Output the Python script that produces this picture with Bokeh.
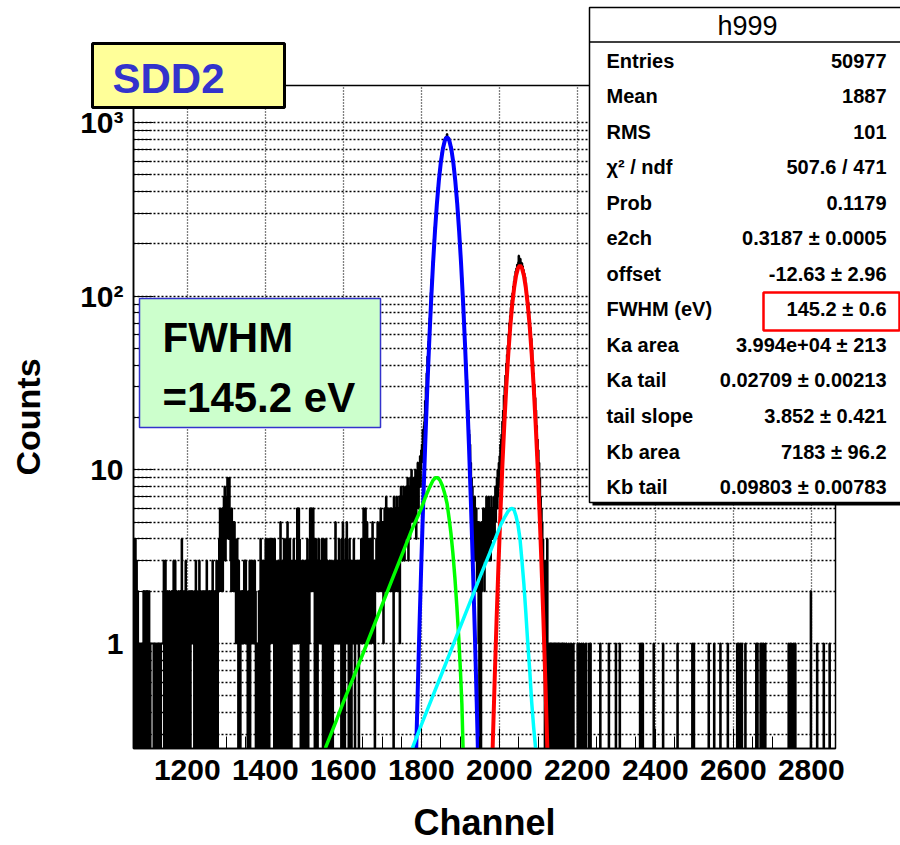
import numpy as np
from bokeh.plotting import figure
from bokeh.models import Range1d, FixedTicker
from bokeh.core.properties import value
from bokeh.embed import file_html
from bokeh.resources import INLINE

FONT = "Liberation Sans"

# Channel window of the spectrum (1 channel per bin)
first_channel = 1062
last_channel = 2861

# Counts per channel, 1062 .. 1779 (low-energy shelf / background)
bkg_counts = [
    4, 0, 3, 1, 0, 4, 2, 0, 3, 1, 0, 2, 1, 0, 1, 0, 1, 1, 0, 1,
    0, 1, 1, 0, 1, 0, 2, 0, 1, 2, 0, 1, 0, 2, 1, 0, 2, 1, 0, 1,
    2, 0, 1, 0, 1, 1, 1, 1, 1, 1, 1, 1, 0, 1, 0, 1, 1, 0, 0, 1,
    0, 1, 0, 0, 1, 1, 0, 1, 0, 1, 0, 1, 1, 1, 1, 1, 1, 2, 3, 0,
    2, 1, 3, 0, 2, 1, 0, 1, 2, 0, 1, 0, 2, 1, 0, 1, 1, 0, 2, 1,
    0, 1, 2, 3, 1, 0, 2, 3, 1, 0, 1, 2, 0, 1, 1, 0, 2, 1, 0, 1,
    2, 0, 1, 1, 4, 0, 1, 2, 0, 1, 0, 2, 1, 1, 3, 0, 1, 2, 0, 1,
    1, 0, 2, 0, 1, 2, 0, 1, 1, 2, 1, 1, 2, 1, 1, 1, 0, 2, 1, 0,
    3, 0, 1, 2, 0, 1, 0, 1, 2, 3, 1, 0, 1, 2, 0, 1, 1, 0, 2, 0,
    1, 2, 0, 1, 0, 2, 1, 1, 3, 0, 1, 2, 0, 1, 0, 2, 1, 0, 1, 2,
    0, 1, 1, 3, 1, 0, 2, 1, 0, 1, 2, 0, 1, 3, 2, 1, 0, 2, 3, 2,
    4, 2, 6, 3, 5, 2, 4, 3, 6, 2, 5, 3, 7, 4, 8, 5, 3, 6, 4, 7,
    5, 9, 6, 8, 4, 7, 9, 5, 6, 3, 5, 2, 6, 4, 3, 5, 2, 4, 3, 5,
    2, 4, 3, 1, 3, 2, 4, 1, 2, 0, 3, 1, 2, 1, 0, 1, 2, 1, 1, 2,
    1, 2, 1, 1, 3, 2, 3, 1, 3, 1, 2, 1, 1, 0, 1, 2, 0, 1, 3, 0,
    1, 2, 3, 1, 2, 1, 3, 2, 1, 2, 1, 3, 1, 2, 0, 1, 0, 1, 1, 0,
    1, 0, 2, 1, 0, 1, 4, 2, 0, 3, 1, 0, 2, 1, 3, 0, 1, 2, 0, 4,
    1, 0, 2, 3, 0, 4, 1, 2, 0, 3, 4, 2, 1, 3, 4, 2, 3, 4, 1, 2,
    2, 0, 4, 1, 2, 3, 1, 0, 2, 1, 0, 3, 1, 0, 2, 1, 2, 5, 1, 0,
    1, 2, 0, 3, 1, 0, 4, 2, 1, 0, 3, 1, 4, 0, 2, 5, 1, 3, 0, 2,
    1, 4, 0, 2, 3, 0, 1, 2, 3, 1, 2, 4, 1, 3, 2, 1, 2, 3, 1, 2,
    6, 2, 1, 3, 6, 2, 4, 1, 3, 0, 2, 1, 0, 3, 1, 0, 2, 3, 0, 1,
    2, 0, 3, 1, 0, 2, 4, 1, 0, 3, 2, 1, 3, 6, 4, 5, 2, 6, 3, 2,
    4, 6, 2, 3, 4, 0, 2, 1, 4, 0, 1, 3, 0, 2, 1, 4, 2, 3, 1, 2,
    3, 1, 2, 4, 1, 2, 0, 1, 4, 0, 2, 3, 1, 0, 4, 2, 0, 1, 3, 0,
    1, 2, 0, 3, 1, 0, 2, 1, 0, 3, 1, 0, 2, 1, 2, 3, 1, 2, 5, 1,
    2, 3, 1, 2, 3, 1, 2, 4, 1, 3, 2, 1, 2, 0, 4, 1, 0, 5, 2, 0,
    3, 1, 0, 2, 4, 1, 3, 5, 2, 1, 3, 2, 0, 1, 4, 0, 2, 1, 3, 0,
    2, 1, 3, 2, 1, 4, 2, 3, 0, 2, 1, 3, 2, 1, 2, 3, 2, 1, 0, 3,
    2, 1, 3, 2, 4, 1, 2, 3, 1, 2, 6, 2, 3, 1, 4, 6, 2, 3, 1, 5,
    2, 1, 3, 2, 4, 2, 1, 3, 2, 4, 1, 3, 2, 5, 2, 3, 1, 2, 3, 0,
    2, 3, 2, 4, 3, 2, 5, 3, 2, 4, 2, 3, 5, 2, 6, 3, 4, 2, 5, 3,
    4, 1, 5, 3, 6, 2, 4, 3, 7, 4, 2, 5, 3, 6, 2, 4, 5, 3, 6, 2,
    5, 3, 6, 2, 4, 3, 5, 0, 7, 3, 4, 6, 2, 5, 3, 7, 4, 2, 6, 3,
    5, 4, 7, 1, 6, 3, 8, 4, 5, 7, 3, 6, 4, 8, 5, 3, 7, 4, 6, 8,
    5, 7, 4, 9, 6, 3, 8, 5, 7, 4, 9, 6, 5, 10, 7, 6, 8, 5,
]

# Counts per channel, 1780 .. 1945 (Mn K-alpha line)
ka_counts = [
    6, 9, 5, 8, 6, 10, 7, 4, 8, 9,
    7, 11, 8, 6, 9, 10, 9, 12, 8, 10,
    13, 11, 14, 12, 17, 15, 13, 18, 19, 21,
    25, 23, 30, 29, 36, 37, 45, 44, 53, 55,
    60, 70, 75, 86, 90, 105, 110, 126, 131, 152,
    160, 181, 190, 214, 224, 251, 262, 290, 301, 335,
    348, 381, 392, 425, 446, 478, 493, 530, 541, 578,
    596, 627, 640, 672, 684, 715, 722, 751, 762, 770,
    801, 799, 822, 806, 830, 821, 858, 826, 819, 814,
    798, 808, 781, 772, 760, 741, 732, 703, 690, 661,
    648, 612, 596, 570, 538, 527, 488, 470, 441, 420,
    389, 372, 344, 327, 296, 284, 258, 243, 220, 209,
    185, 174, 152, 146, 128, 119, 104, 98, 84, 80,
    68, 66, 54, 52, 43, 41, 34, 33, 26, 25,
    21, 22, 17, 16, 13, 14, 10, 11, 8, 9,
    7, 8, 5, 7, 4, 6, 3, 7, 4, 5,
    3, 6, 4, 2, 5, 3,
]

# Counts per channel, 1946 .. 1985 (between the two lines)
valley_counts = [
    4, 1, 5, 0, 3, 1, 4, 0, 5, 2,
    3, 5, 4, 6, 3, 5, 2, 4, 6, 3,
    5, 7, 4, 6, 3, 5, 4, 7, 3, 5,
    4, 6, 3, 5, 7, 4, 5, 6, 4, 5,
]

# Counts per channel, 1986 .. 2125 (Mn K-beta line)
kb_counts = [
    5, 7, 4, 6, 8, 5, 7, 6, 9, 6,
    10, 7, 9, 11, 8, 12, 10, 14, 11, 15,
    16, 14, 19, 18, 22, 20, 27, 24, 30, 28,
    35, 33, 41, 38, 46, 45, 52, 51, 60, 58,
    70, 67, 77, 75, 86, 84, 95, 93, 104, 101,
    114, 110, 122, 118, 131, 127, 139, 134, 145, 140,
    152, 148, 150, 158, 171, 153, 160, 158, 164, 151,
    157, 149, 155, 143, 149, 138, 142, 130, 135, 122,
    129, 114, 120, 104, 110, 96, 101, 87, 92, 78,
    82, 69, 74, 61, 66, 54, 57, 45, 49, 38,
    42, 32, 36, 27, 31, 23, 26, 18, 22, 15,
    18, 12, 15, 10, 13, 8, 11, 6, 9, 5,
    7, 4, 6, 3, 5, 2, 4, 3, 1, 3,
    2, 0, 2, 1, 3, 1, 0, 4, 1, 0,
]

# Above 2125 almost every channel is empty: non-zero channels only
tail_channels = [
    2126, 2128, 2131, 2133, 2134, 2136, 2139, 2142, 2143, 2145, 2147, 2150,
    2152, 2155, 2158, 2161, 2163, 2166, 2168, 2172, 2178, 2184, 2190, 2201,
    2205, 2210, 2216, 2222, 2230, 2234, 2259, 2281, 2299, 2309, 2361, 2364,
    2368, 2396, 2420, 2457, 2495, 2499, 2537, 2551, 2567, 2586, 2610, 2614,
    2618, 2622, 2631, 2659, 2662, 2670, 2673, 2677, 2682, 2742, 2746, 2750,
    2755, 2759, 2799, 2815, 2832, 2847,
]
tail_counts = [1] * 62 + [2, 1, 1, 1]

# Fit components: K-alpha gaussian (blue)
ka_gauss_ch = [1785, 1787, 1790, 1795, 1800, 1805, 1810, 1815, 1820, 1825, 1830,
               1835, 1840, 1845, 1850, 1855, 1860, 1863, 1866, 1869, 1872, 1877,
               1882, 1887, 1892, 1897, 1902, 1907, 1912, 1917, 1922, 1927, 1932,
               1937, 1942, 1945, 1947]
ka_gauss_val = [0.17, 0.25, 0.46, 1.20, 2.91, 6.61, 14.1, 28.3, 52.9, 93.0, 153.2,
                236.3, 341.7, 463.4, 588.7, 701.1, 782.7, 810.5, 820.0, 810.5, 782.7,
                701.1, 588.7, 463.4, 341.7, 236.3, 153.2, 93.0, 52.9, 28.3, 14.1,
                6.61, 2.91, 1.20, 0.46, 0.25, 0.17]

# K-beta gaussian (red)
kb_gauss_ch = [1981, 1983, 1988, 1993, 1998, 2003, 2008, 2013, 2018, 2023, 2028,
               2033, 2038, 2043, 2048, 2053, 2058, 2063, 2068, 2073, 2078, 2083,
               2088, 2093, 2098, 2103, 2108, 2113, 2118, 2123, 2125]
kb_gauss_val = [0.18, 0.255, 0.61, 1.38, 2.9, 5.8, 10.8, 18.7, 30.5, 46.5, 66.5,
                89.1, 111.9, 131.7, 145.2, 150.0, 145.2, 131.7, 111.9, 89.1, 66.5,
                46.5, 30.5, 18.7, 10.8, 5.8, 2.9, 1.38, 0.61, 0.255, 0.18]

# K-alpha low-energy tail (green)
ka_tail_ch = [1540, 1554, 1580, 1600, 1625, 1650, 1675, 1700, 1725, 1750, 1775,
              1800, 1812, 1822, 1830, 1836, 1842, 1848, 1854, 1860, 1866, 1871,
              1876, 1881, 1886, 1891, 1896, 1900, 1904, 1907, 1909]
ka_tail_val = [0.21, 0.25, 0.35, 0.46, 0.63, 0.87, 1.21, 1.68, 2.33, 3.23, 4.48,
               6.0, 7.1, 8.0, 8.7, 9.0, 9.0, 8.7, 8.1, 7.3, 6.4, 5.3,
               4.3, 3.3, 2.4, 1.65, 1.08, 0.72, 0.45, 0.25, 0.18]

# K-beta low-energy tail (cyan)
kb_tail_ch = [1765, 1777, 1800, 1825, 1850, 1875, 1900, 1925, 1950, 1975, 1995,
              2005, 2015, 2022, 2028, 2033, 2038, 2043, 2048, 2053, 2058, 2063,
              2068, 2073, 2078, 2083, 2088, 2093, 2096]
kb_tail_val = [0.21, 0.25, 0.34, 0.47, 0.65, 0.90, 1.25, 1.73, 2.4, 3.3, 4.3,
               4.9, 5.4, 5.75, 5.95, 6.0, 5.85, 5.4, 4.8, 4.0, 3.0, 2.2,
               1.5, 1.0, 0.7, 0.46, 0.33, 0.25, 0.2]

# Statistics / fit result box
stats_title = "h999"
stat_names = ["Entries", "Mean", "RMS", "\u03c7\u00b2 / ndf", "Prob", "e2ch", "offset",
              "FWHM (eV)", "Ka area", "Ka tail", "tail slope", "Kb area", "Kb tail"]
stat_values = ["50977", "1887", "101", "507.6 / 471", "0.1179",
               "0.3187 \u00b1 0.0005", "-12.63 \u00b1 2.96", "145.2 \u00b1 0.6",
               "3.994e+04 \u00b1 213", "0.02709 \u00b1 0.00213", "3.852 \u00b1 0.421",
               "7183 \u00b1 96.2", "0.09803 \u00b1 0.00783"]

x_ticks = [1200, 1400, 1600, 1800, 2000, 2200, 2400, 2600, 2800]
y_ticks = [1, 10, 100, 1000]
y_tick_labels = ["1", "10", "10\u00b2", "10\u00b3"]

# ---- layout of the frame (pixels) and axis ranges ----
FRAME_L, FRAME_R, FRAME_T, FRAME_B = 133, 835, 85, 748
X0, X1 = 1062, 2862
Y0, Y1 = 0.2485, 1633
LY0, LY1 = np.log10(Y0), np.log10(Y1)


def dx(px):
    """canvas x pixel -> channel"""
    return X0 + (px - FRAME_L) / (FRAME_R - FRAME_L) * (X1 - X0)


def dy(py):
    """canvas y pixel -> counts (log axis)"""
    return 10 ** (LY0 + (FRAME_B - py) / (FRAME_B - FRAME_T) * (LY1 - LY0))


# ---- histogram as a step outline; empty bins drop below the frame ----
dense = np.array(bkg_counts + ka_counts + valley_counts + kb_counts, dtype=float)
counts = np.zeros(last_channel - first_channel + 1)
counts[:len(dense)] = dense
for c, n in zip(tail_channels, tail_counts):
    counts[c - first_channel] = n

edges = np.arange(first_channel, last_channel + 2) - 0.5
step_y = np.where(counts > 0, counts, 0.05)
step_y = np.append(step_y, step_y[-1])

p = figure(width=900, height=845,
           x_range=Range1d(X0, X1), y_range=Range1d(Y0, Y1),
           y_axis_type="log", output_backend="svg", toolbar_location=None,
           min_border_left=FRAME_L, min_border_right=900 - FRAME_R,
           min_border_top=FRAME_T, min_border_bottom=845 - FRAME_B)
p.background_fill_color = "white"
p.border_fill_color = "white"
p.outline_line_color = "black"
p.outline_line_width = 1.5

p.step(edges, step_y, mode="after", line_color="black", line_width=2.2)

p.line(ka_gauss_ch, ka_gauss_val, line_color="#0000FF", line_width=4)
p.line(kb_gauss_ch, kb_gauss_val, line_color="#FF0000", line_width=4)
p.line(ka_tail_ch, ka_tail_val, line_color="#00FF00", line_width=3.5)
p.line(kb_tail_ch, kb_tail_val, line_color="#00FFFF", line_width=3.5)

# ---- axes ----
x_minor = [c for c in range(1100, 2851, 50) if c % 200 != 0]
p.xaxis.ticker = FixedTicker(ticks=x_ticks, minor_ticks=x_minor)
y_minor = [m * 10.0 ** e for e in range(-1, 3) for m in range(2, 10) if Y0 <= m * 10.0 ** e <= Y1]
p.yaxis.ticker = FixedTicker(ticks=y_ticks, minor_ticks=y_minor)
p.yaxis.major_label_overrides = dict(zip(y_ticks, y_tick_labels))

for ax in (p.xaxis, p.yaxis):
    ax.axis_line_color = "black"
    ax.axis_line_width = 1.5
    ax.major_tick_line_color = "black"
    ax.minor_tick_line_color = "black"
    ax.major_tick_out = 0
    ax.minor_tick_out = 0
    ax.major_label_text_font = FONT
    ax.major_label_text_font_style = "bold"
    ax.major_label_text_font_size = "30px"
    ax.major_label_text_color = "black"
    ax.axis_label_text_font = FONT
    ax.axis_label_text_font_style = "bold"
    ax.axis_label_text_color = "black"

p.xaxis.major_tick_in = 20
p.xaxis.minor_tick_in = 12
p.yaxis.major_tick_in = 20
p.yaxis.minor_tick_in = 18
p.xaxis.major_label_standoff = 11
p.yaxis.major_label_standoff = 10

p.xaxis.axis_label = "Channel"
p.xaxis.axis_label_text_font_size = "36px"
p.xaxis.axis_label_standoff = 19
p.yaxis.axis_label = "Counts"
p.yaxis.axis_label_text_font_size = "34px"
p.yaxis.axis_label_standoff = 30

p.xgrid.grid_line_color = "black"
p.xgrid.grid_line_dash = "1 2"
p.xgrid.grid_line_width = 1.3
p.ygrid.grid_line_color = "black"
p.ygrid.grid_line_dash = "2 2"
p.ygrid.grid_line_width = 1.3
p.ygrid.minor_grid_line_color = "black"
p.ygrid.minor_grid_line_dash = "2 2"
p.ygrid.minor_grid_line_width = 1.3


# boxes and texts are overlay glyphs so they may reach past the frame
def box(left, right, top, bottom, fill, line, lw):
    p.quad(left=[dx(left)], right=[dx(right)], top=[dy(top)], bottom=[dy(bottom)],
           fill_color=fill, fill_alpha=1.0 if fill else 0.0,
           line_color=line, line_width=lw, level="overlay")


def text(xs, ys, strings, size, style="bold", color="black", align="left"):
    p.text(x=[dx(v) for v in xs], y=[dy(v) for v in ys], text=strings,
           text_font=value(FONT), text_font_size=value(size),
           text_font_style=style, text_color=color,
           text_align=align, text_baseline="middle", level="overlay")


# statistics box with its shadow and title row
box(592, 912, 10, 505, "black", None, 0)
box(589, 909, 7, 502, "white", "black", 1.5)
box(589, 909, 41.5, 41.5, None, "black", 1.5)
text([747], [25], [stats_title], "27px", style="normal", align="center")
rows_y = [60 + 35.55 * i for i in range(len(stat_names))]
text([606] * len(stat_names), rows_y, stat_names, "20px")
text([886] * len(stat_values), rows_y, stat_values, "20px", align="right")
# highlight around the FWHM result
box(763, 899, 292, 330, None, "#FF0000", 2.5)

# detector tag
box(92, 284, 43, 107, "#FFFF99", "black", 3)
text([112], [78], ["SDD2"], "42px", color="#3333CC")

# resolution callout
box(139, 380, 298, 427, "#CCFFCC", "#3333CC", 1.5)
text([162, 162], [337, 397], ["FWHM", "=145.2 eV"], "42px")

open("out.html", "w").write(file_html(p, INLINE))
